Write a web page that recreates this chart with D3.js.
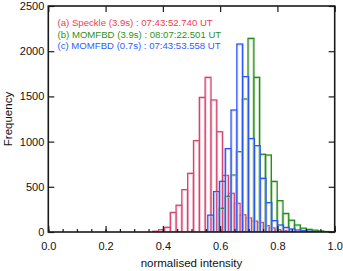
<!DOCTYPE html>
<html>
<head>
<meta charset="utf-8">
<script src="https://cdn.jsdelivr.net/npm/d3@7"></script>
<style>
  body { margin: 0; background: #fff; }
  text { font-family: "Liberation Sans", Arial, sans-serif; }
</style>
</head>
<body>
<svg id="chart"></svg>
<script>
// histogram data (bin start, shared bin width, counts)
const binWidth = 0.0203
const speckleStart = 0.365
const speckleCounts = [8, 25, 52, 216, 296, 468, 649, 1010, 1489, 1711, 1460, 1109, 626, 428, 317, 190, 155, 120, 105, 70, 45, 25, 15, 8, 5, 3]
const mom39Start = 0.596
const mom39Counts = [262, 395, 630, 888, 1471, 2142, 1711, 860, 851, 560, 346, 205, 130, 77, 42, 29, 20, 11, 5, 3]
const mom07Start = 0.557
const mom07Counts = [186, 446, 560, 922, 1349, 2079, 1718, 1033, 954, 594, 324, 125, 77, 50, 33, 22, 14, 8, 4]

const legendLabels = [
    '(a) Speckle (3.9s) : 07:43:52.740 UT',
    '(b) MOMFBD (3.9s) : 08:07:22.501 UT',
    '(c) MOMFBD (0.7s) : 07:43:53.558 UT'
]
const xTicks = [0, 0.2, 0.4, 0.6, 0.8, 1.0]
const yTicks = [0, 500, 1000, 1500, 2000, 2500]

const width = 343
const height = 271
const margin = { left: 48.3, right: 8.3, top: 6, bottom: 39 }

//set up svg container
const svg = d3.select('#chart')
    .attr('width', width)
    .attr('height', height)

const x = d3.scaleLinear().domain([0, 1]).range([margin.left, width - margin.right])
const y = d3.scaleLinear().domain([0, 2500]).range([height - margin.bottom, margin.top])

const toBins = (start, counts) => counts.map((c, i) => ({ x0: start + i * binWidth, x1: start + (i + 1) * binWidth, c }))

const series = [
    { bins: toBins(speckleStart, speckleCounts), color: '#d8466f', light: '#f2b3c4' },
    { bins: toBins(mom39Start, mom39Counts), color: '#2b8a1f', light: '#9fd392' },
    { bins: toBins(mom07Start, mom07Counts), color: '#2d55f5', light: '#a9b9fb' }
]

svg.append('clipPath').attr('id', 'plot')
    .append('rect')
    .attr('x', x(0)).attr('y', y(2500))
    .attr('width', x(1) - x(0)).attr('height', y(0) - y(2500))

const plot = svg.append('g').attr('clip-path', 'url(#plot)')

// bars as outlines
series.forEach(s => {
    const g = plot.append('g')
    g.selectAll('rect.o')
        .data(s.bins)
        .join('rect')
        .attr('x', d => x(d.x0))
        .attr('y', d => y(d.c))
        .attr('width', d => x(d.x1) - x(d.x0))
        .attr('height', d => y(0) - y(d.c))
        .attr('fill', 'none')
        .attr('stroke', s.color)
        .attr('stroke-width', 1.4)
    g.selectAll('rect.i')
        .data(s.bins)
        .join('rect')
        .attr('x', d => x(d.x0) + 1)
        .attr('y', d => y(d.c) + 1)
        .attr('width', d => Math.max(0, x(d.x1) - x(d.x0) - 2))
        .attr('height', d => Math.max(0, y(0) - y(d.c) - 1))
        .attr('fill', 'none')
        .attr('stroke', s.light)
        .attr('stroke-width', 0.6)
})

// axes box
const axisColor = '#1a1a1a'
svg.append('rect')
    .attr('x', x(0)).attr('y', y(2500))
    .attr('width', x(1) - x(0)).attr('height', y(0) - y(2500))
    .attr('fill', 'none')
    .attr('stroke', axisColor)
    .attr('stroke-width', 1.6)

// bottom axis with minor ticks
svg.append('g')
    .attr('transform', `translate(0,${y(0)})`)
    .call(d3.axisBottom(x).tickValues(d3.range(0, 1.001, 0.05)).tickSize(-3).tickFormat(''))
    .call(g => g.select('.domain').remove())
    .call(g => g.selectAll('line').attr('stroke', axisColor).attr('stroke-width', 1.2))

svg.append('g')
    .attr('transform', `translate(0,${y(0)})`)
    .call(d3.axisBottom(x).tickValues(xTicks).tickSize(-6).tickPadding(10).tickFormat(d3.format('.1f')))
    .call(g => g.select('.domain').remove())
    .call(g => g.selectAll('line').attr('stroke', axisColor).attr('stroke-width', 1.2))
    .call(g => g.selectAll('text').attr('font-size', 11).attr('fill', '#111')
        .attr('font-family', '"Liberation Sans", Arial, sans-serif'))

// top axis
svg.append('g')
    .attr('transform', `translate(0,${y(2500)})`)
    .call(d3.axisTop(x).tickValues(xTicks).tickSize(-6).tickFormat(''))
    .call(g => g.select('.domain').remove())
    .call(g => g.selectAll('line').attr('stroke', axisColor).attr('stroke-width', 1.2))

// left axis
svg.append('g')
    .attr('transform', `translate(${x(0)},0)`)
    .call(d3.axisLeft(y).tickValues(yTicks).tickSize(-6).tickPadding(4).tickFormat(d3.format('d')))
    .call(g => g.select('.domain').remove())
    .call(g => g.selectAll('line').attr('stroke', axisColor).attr('stroke-width', 1.2))
    .call(g => g.selectAll('text').attr('font-size', 11).attr('fill', '#111')
        .attr('font-family', '"Liberation Sans", Arial, sans-serif'))

// right axis
svg.append('g')
    .attr('transform', `translate(${x(1)},0)`)
    .call(d3.axisRight(y).tickValues(yTicks).tickSize(-6).tickFormat(''))
    .call(g => g.select('.domain').remove())
    .call(g => g.selectAll('line').attr('stroke', axisColor).attr('stroke-width', 1.2))

// axis titles
svg.append('text')
    .attr('x', (x(0) + x(1)) / 2)
    .attr('y', 267)
    .attr('text-anchor', 'middle')
    .attr('font-size', 11.5)
    .attr('fill', '#111')
    .text('normalised intensity')

svg.append('text')
    .attr('transform', `translate(12,${(y(0) + y(2500)) / 2}) rotate(-90)`)
    .attr('text-anchor', 'middle')
    .attr('font-size', 11.5)
    .attr('fill', '#111')
    .text('Frequency')

// legend
const legendColors = ['#ee3b57', '#2f8f22', '#2f5cff']
svg.selectAll('text.legend')
    .data(legendLabels)
    .join('text')
    .attr('class', 'legend')
    .attr('x', 57.5)
    .attr('y', (d, i) => 26 + i * 11.7)
    .attr('font-size', 9.6)
    .attr('fill', (d, i) => legendColors[i])
    .text(d => d)
</script>
</body>
</html>
